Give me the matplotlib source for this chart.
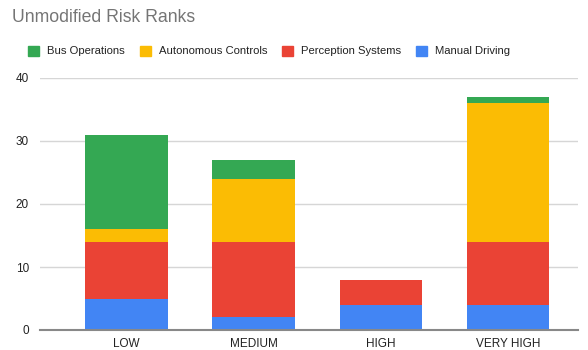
import numpy as np
import matplotlib.pyplot as plt
from matplotlib.patches import Patch

# risk ranks per category, stacked bottom to top
categories = ["LOW", "MEDIUM", "HIGH", "VERY HIGH"]
manual_driving = [5, 2, 4, 4]
perception_systems = [9, 12, 4, 10]
autonomous_controls = [2, 10, 0, 22]
bus_operations = [15, 3, 0, 1]

series_names = ["Manual Driving", "Perception Systems", "Autonomous Controls", "Bus Operations"]
series_colors = ["#4285F4", "#EA4335", "#FBBC04", "#34A853"]
y_ticks = [0, 10, 20, 30, 40]

plt.rcParams['font.family'] = ['Liberation Sans', 'DejaVu Sans']

fig = plt.figure(figsize=(5.88, 3.5), dpi=100)
ax = fig.add_axes([40 / 588, 20 / 350, 538 / 588, 252 / 350])

x = np.arange(len(categories))
bottom = np.zeros(len(categories))
for vals, color in zip([manual_driving, perception_systems, autonomous_controls, bus_operations], series_colors):
    ax.bar(x, vals, bottom=bottom, width=0.65, color=color, zorder=3)
    bottom += np.array(vals)

ax.set_xlim(-0.68, 3.55)
ax.set_ylim(0, 40)
ax.set_yticks(y_ticks)
ax.set_xticks(x)
ax.set_xticklabels(categories)
ax.tick_params(axis='both', length=0, labelsize=8.5, colors='#222222')
ax.tick_params(axis='y', pad=8)
ax.tick_params(axis='x', pad=6)
ax.grid(axis='y', color='#d6d6d6', linewidth=1, zorder=0)
for s in ['top', 'right', 'left']:
    ax.spines[s].set_visible(False)
ax.spines['bottom'].set_color('#888888')
ax.spines['bottom'].set_linewidth(1.5)
ax.spines['bottom'].set_zorder(4)

fig.text(12 / 588, 1 - 18 / 350, "Unmodified Risk Ranks", fontsize=12.7, color='#757575', va='center')

handles = [Patch(color=series_colors[i], label=series_names[i]) for i in [3, 2, 1, 0]]
fig.legend(handles=handles, loc='center left', bbox_to_anchor=(28 / 588, 1 - 51 / 350), ncol=4,
           frameon=False, fontsize=8.1, handlelength=0.98, handleheight=0.98, handletextpad=0.7,
           columnspacing=1.33, labelcolor='#222222', borderaxespad=0, borderpad=0)

fig.savefig("out.png", dpi=100)
